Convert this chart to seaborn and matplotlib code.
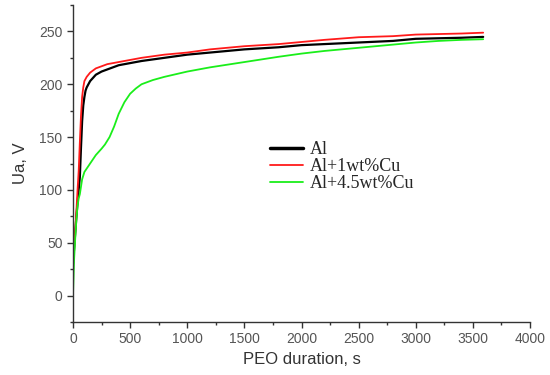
import matplotlib
matplotlib.use("Agg")
import matplotlib.pyplot as plt
import seaborn as sns
from matplotlib.ticker import MultipleLocator

# PEO voltage-time curves
t_al = [0, 10, 20, 30, 40, 50, 60, 70, 80, 90, 100, 110, 120, 150, 200, 250, 300,
        400, 500, 600, 800, 1000, 1200, 1500, 1800, 2000, 2200, 2500, 2800, 3000,
        3200, 3400, 3590]
u_al = [30, 45, 60, 75, 88, 100, 112, 140, 165, 180, 188, 194, 197, 203, 209, 212, 214,
        218, 220, 222, 225, 228, 230, 233, 235, 237, 238, 239.5, 241, 243,
        243.5, 244, 244.8]

t_cu1 = [0, 10, 20, 30, 40, 50, 60, 70, 80, 90, 100, 120, 150, 200, 250, 300,
         400, 500, 600, 800, 1000, 1200, 1500, 1800, 2000, 2200, 2500, 2800, 3000,
         3200, 3400, 3590]
u_cu1 = [30, 45, 62, 80, 100, 118, 145, 170, 188, 197, 203, 207, 211, 215, 217, 219,
         221, 223, 225, 228, 230, 233, 236, 238, 240, 242, 244.5, 245.5, 247,
         247.5, 248, 248.8]

t_cu45 = [0, 10, 20, 30, 40, 50, 60, 80, 100, 150, 200, 250, 280, 320, 360, 400,
          450, 500, 550, 600, 700, 800, 1000, 1200, 1500, 1800, 2000, 2200, 2500,
          2800, 3000, 3200, 3400, 3590]
u_cu45 = [0, 35, 55, 72, 85, 92, 96, 110, 117, 125, 133, 139, 143, 150, 160, 172,
          183, 191, 196, 200, 204, 207, 212, 216, 221, 226, 229, 231.5, 234.5,
          237.5, 239.5, 241, 242, 242.6]

sns.set_style("ticks")
plt.rcParams['font.family'] = ['Liberation Sans', 'DejaVu Sans']

fig = plt.figure(figsize=(5.5, 3.75), dpi=100)
ax = fig.add_axes([0.1327, 0.1413, 0.831, 0.8454])

sns.lineplot(x=t_al, y=u_al, color='black', linewidth=1.6, label='Al', ax=ax)
sns.lineplot(x=t_cu1, y=u_cu1, color='#ff1a1a', linewidth=1.3, label='Al+1wt%Cu', ax=ax)
sns.lineplot(x=t_cu45, y=u_cu45, color='#1aee1a', linewidth=1.3, label='Al+4.5wt%Cu', ax=ax)

ax.set_xlim(0, 4000)
ax.set_ylim(-25, 275)
ax.xaxis.set_major_locator(MultipleLocator(500))
ax.xaxis.set_minor_locator(MultipleLocator(250))
ax.yaxis.set_major_locator(MultipleLocator(50))
ax.yaxis.set_minor_locator(MultipleLocator(25))
ax.tick_params(which='major', direction='out', length=4, width=1, labelsize=10,
               labelcolor='#555555', colors='#333333')
ax.tick_params(which='minor', direction='out', length=2.5, width=1, colors='#333333')
ax.tick_params(axis='y', which='both', labelcolor='#555555')
sns.despine(ax=ax)
for s in ['left', 'bottom']:
    ax.spines[s].set_color('#333333')
    ax.spines[s].set_linewidth(1)

ax.set_xlabel('PEO duration, s', fontsize=12, color='#333333', labelpad=4)
ax.set_ylabel('Ua, V', fontsize=12, color='#333333', labelpad=8)

leg = ax.legend(loc='center left', bbox_to_anchor=(0.395, 0.49), frameon=False,
                prop={'family': 'Liberation Serif', 'size': 13},
                handlelength=1.85, handletextpad=0.35, labelspacing=0.0)
leg.get_lines()[0].set_linewidth(2.5)

fig.savefig('out.png', dpi=100)
